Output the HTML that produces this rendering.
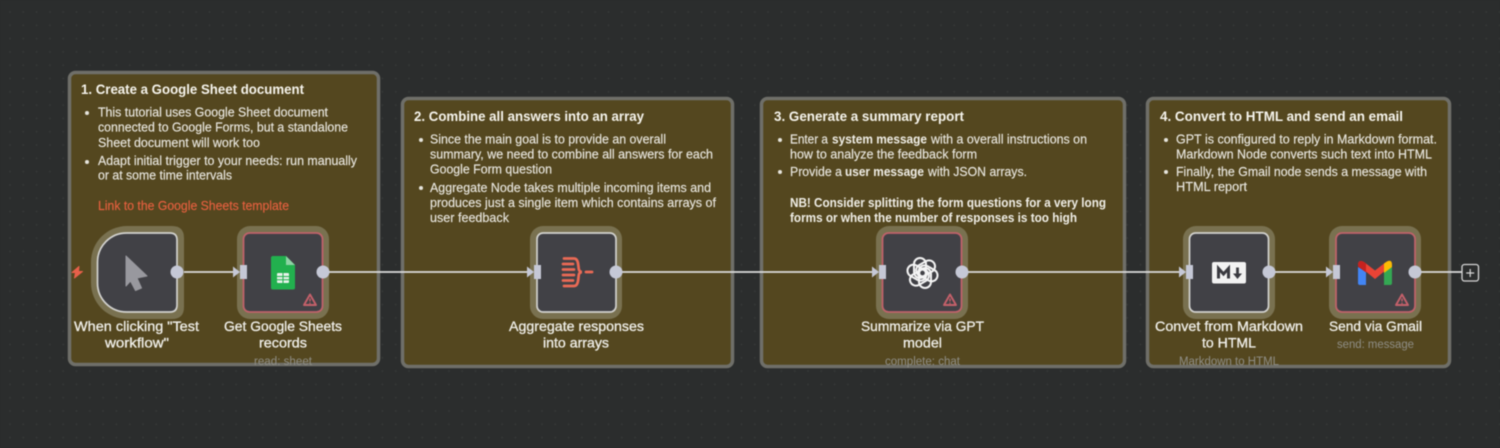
<!DOCTYPE html>
<html><head><meta charset="utf-8"><style>
html,body{margin:0;padding:0;width:1500px;height:448px;overflow:hidden;background:#2b2d2d}
svg{display:block;filter:blur(.4px)}
text{font-family:"Liberation Sans",sans-serif}
.t{font-size:14px;font-weight:700;fill:#f6f4ec}
.b{font-size:12.5px;fill:#e8e6de;stroke:#e8e6de;stroke-width:.15px}
.bb{font-size:12.5px;font-weight:700;fill:#f0eee6}
.l{font-size:14px;fill:#f0efe9;stroke:#f0efe9;stroke-width:.3px}
.s{font-size:11.5px;fill:#8f8e86}
.sticky{fill:#54471f;stroke:#6f6f69;stroke-width:3.500}
.halo{fill:#797150}
.n{fill:#414146;stroke:#d2d2cf;stroke-width:1.700}
.e{fill:#414146;stroke:#bf626a;stroke-width:1.800}
.c{stroke:#dcdcdc;stroke-width:1.800;fill:none}
.o{fill:#c5c8d6}
.i{fill:#c5c8d6}
</style></head><body>
<svg width="1500" height="448" viewBox="0 0 1500 448" xmlns="http://www.w3.org/2000/svg">
<defs>
<pattern id="dots" x="10" y="12" width="13.3" height="13.3" patternUnits="userSpaceOnUse"><circle cx="0" cy="0" r=".9" fill="#383a39"/><circle cx="13.3" cy="0" r=".9" fill="#383a39"/><circle cx="0" cy="13.3" r=".9" fill="#383a39"/><circle cx="13.3" cy="13.3" r=".9" fill="#383a39"/></pattern>
<g id="warn"><path d="M0 -5.500 L6 5 H-6 Z" fill="none" stroke="#c4606a" stroke-width="1.900" stroke-linejoin="round"/><path d="M0 -1.500 V1.500 M0 2.500 V3.700" stroke="#c4606a" stroke-width="1.400"/></g>
<g id="inp"><path d="M-10 -5.500 L-3 0 L-10 5.500 Z" fill="#c5c8d6"/><rect x="-3" y="-7" width="7" height="14" class="i"/></g>
</defs>
<rect width="1500" height="448" fill="#2b2d2d"/>
<rect width="1500" height="448" fill="url(#dots)"/>

<rect class="sticky" x="69.500" y="72.500" width="309" height="292" rx="6"/>
<rect class="sticky" x="402.500" y="98.500" width="330" height="268" rx="6"/>
<rect class="sticky" x="761.500" y="98.500" width="363" height="268" rx="6"/>
<rect class="sticky" x="1147.500" y="98.500" width="302" height="268" rx="6"/>

<!-- Sticky 1 -->
<text class="t" x="81" y="94" textLength="223" lengthAdjust="spacingAndGlyphs">1. Create a Google Sheet document</text>
<circle cx="87" cy="113" r="2" fill="#e6e4dc"/><circle cx="87" cy="162" r="2" fill="#e6e4dc"/>
<text class="b" x="98" y="116.500" textLength="230" lengthAdjust="spacingAndGlyphs">This tutorial uses Google Sheet document</text>
<text class="b" x="98" y="131.500" textLength="250" lengthAdjust="spacingAndGlyphs">connected to Google Forms, but a standalone</text>
<text class="b" x="98" y="147" textLength="162" lengthAdjust="spacingAndGlyphs">Sheet document will work too</text>
<text class="b" x="98" y="165" textLength="259" lengthAdjust="spacingAndGlyphs">Adapt initial trigger to your needs: run manually</text>
<text class="b" x="98" y="179.500" textLength="134" lengthAdjust="spacingAndGlyphs">or at some time intervals</text>
<text class="b" x="98" y="210" textLength="191" lengthAdjust="spacingAndGlyphs" style="fill:#e5603f;stroke:#e5603f">Link to the Google Sheets template</text>

<!-- Sticky 2 -->
<text class="t" x="414" y="121" textLength="230" lengthAdjust="spacingAndGlyphs">2. Combine all answers into an array</text>
<circle cx="421" cy="140" r="2" fill="#e6e4dc"/><circle cx="421" cy="188" r="2" fill="#e6e4dc"/>
<text class="b" x="430" y="143.500" textLength="236" lengthAdjust="spacingAndGlyphs">Since the main goal is to provide an overall</text>
<text class="b" x="430" y="158.500" textLength="283" lengthAdjust="spacingAndGlyphs">summary, we need to combine all answers for each</text>
<text class="b" x="430" y="173.500" textLength="122" lengthAdjust="spacingAndGlyphs">Google Form question</text>
<text class="b" x="430" y="192" textLength="281" lengthAdjust="spacingAndGlyphs">Aggregate Node takes multiple incoming items and</text>
<text class="b" x="430" y="207" textLength="286" lengthAdjust="spacingAndGlyphs">produces just a single item which contains arrays of</text>
<text class="b" x="430" y="222" textLength="79" lengthAdjust="spacingAndGlyphs">user feedback</text>

<!-- Sticky 3 -->
<text class="t" x="774" y="121" textLength="190" lengthAdjust="spacingAndGlyphs">3. Generate a summary report</text>
<circle cx="780" cy="140" r="2" fill="#e6e4dc"/><circle cx="780" cy="172" r="2" fill="#e6e4dc"/>
<text class="b" x="790" y="143.500" textLength="38" lengthAdjust="spacingAndGlyphs">Enter a</text>
<text class="bb" x="832" y="143.500" textLength="95" lengthAdjust="spacingAndGlyphs">system message</text>
<text class="b" x="931" y="143.500" textLength="156" lengthAdjust="spacingAndGlyphs">with a overall instructions on</text>
<text class="b" x="790" y="158.500" textLength="187" lengthAdjust="spacingAndGlyphs">how to analyze the feedback form</text>
<text class="b" x="790" y="176" textLength="52" lengthAdjust="spacingAndGlyphs">Provide a</text>
<text class="bb" x="845" y="176" textLength="79" lengthAdjust="spacingAndGlyphs">user message</text>
<text class="b" x="928" y="176" textLength="99" lengthAdjust="spacingAndGlyphs">with JSON arrays.</text>
<text class="bb" x="790" y="207" textLength="316" lengthAdjust="spacingAndGlyphs">NB! Consider splitting the form questions for a very long</text>
<text class="bb" x="790" y="222" textLength="287" lengthAdjust="spacingAndGlyphs">forms or when the number of responses is too high</text>

<!-- Sticky 4 -->
<text class="t" x="1160" y="121" textLength="243" lengthAdjust="spacingAndGlyphs">4. Convert to HTML and send an email</text>
<circle cx="1166" cy="140" r="2" fill="#e6e4dc"/><circle cx="1166" cy="172" r="2" fill="#e6e4dc"/>
<text class="b" x="1176" y="143.500" textLength="261" lengthAdjust="spacingAndGlyphs">GPT is configured to reply in Markdown format.</text>
<text class="b" x="1176" y="158.500" textLength="256" lengthAdjust="spacingAndGlyphs">Markdown Node converts such text into HTML</text>
<text class="b" x="1176" y="176" textLength="251" lengthAdjust="spacingAndGlyphs">Finally, the Gmail node sends a message with</text>
<text class="b" x="1176" y="191" textLength="71" lengthAdjust="spacingAndGlyphs">HTML report</text>

<!-- Connectors -->
<path class="c" d="M177 272H234M323 272H528M616 272H873M962 272H1180M1269 272H1327M1415 272H1462"/>

<!-- Trigger -->
<path class="halo" d="M91 262 A36 36 0 0 1 127 226 H172 Q184 226 184 238 V307 Q184 319 172 319 H127 A36 36 0 0 1 91 283Z"/>
<path class="n" d="M97.500 262 A29 29 0 0 1 126.500 233 H170 Q177 233 177 240 V305 Q177 312 170 312 H126.500 A29 29 0 0 1 97.500 283Z"/>
<path d="M126 256 L147 276 L137 278 L141.500 288 L135.500 290.500 L130.500 281 L126 286 Z" fill="#98989e" stroke="#98989e" stroke-width="1" stroke-linejoin="round"/>
<circle class="o" cx="177" cy="272" r="6.500"/>
<path d="M79 266.500 L72 272.500 H75.500 L74.500 278 L82.500 271.500 H78.500 Z" fill="#e8604a" stroke="#e8604a" stroke-width="1" stroke-linejoin="round"/>

<!-- Sheets -->
<rect class="halo" x="237" y="226" width="92" height="93" rx="13"/>
<rect class="e" x="243.500" y="233" width="79" height="79" rx="6"/>
<path d="M273 256 H286 L295 265 V288 Q295 289.500 293 289.500 H273 Q271 289.500 271 288 V258 Q271 256 273 256Z" fill="#22b04e"/>
<path d="M286 256 L295 265 H286Z" fill="#8fd3a5"/>
<rect x="277" y="273" width="12" height="10" rx="1" fill="#e8f2ea"/>
<path d="M277 276.500 H289 M277 279.800 H289 M283 273 V283" stroke="#22b04e" stroke-width="1"/>
<use href="#warn" x="310" y="300"/>
<use href="#inp" x="243" y="272"/>
<circle class="o" cx="323" cy="272" r="6.500"/>

<!-- Aggregate -->
<rect class="halo" x="530" y="226" width="92" height="93" rx="13"/>
<rect class="n" x="537" y="233" width="79" height="79" rx="6"/>
<g fill="none" stroke="#ea6a55" stroke-width="2.700" stroke-linecap="round">
<path d="M564 258.500 H574 C579 258.500 578 267 579 270 Q580 272 582 272 Q580 272 579 274 C578 277 579 286 574 286 H564"/>
<path d="M563 264 H573 M563 269.500 H574 M563 275 H574 M563 280.500 H573"/>
<path d="M586 272 H592" stroke-width="2.800"/>
</g>
<use href="#inp" x="537" y="272"/>
<circle class="o" cx="616" cy="272" r="6.500"/>

<!-- GPT -->
<rect class="halo" x="876" y="226" width="92" height="93" rx="13"/>
<rect class="e" x="882.500" y="233" width="79" height="79" rx="6"/>
<g fill="none" stroke="#f4f4f4" stroke-width="2" transform="translate(922.500 273)">
<rect x="-8.500" y="-15" width="12" height="20" rx="6"/>
<rect x="-8.500" y="-15" width="12" height="20" rx="6" transform="rotate(60)"/>
<rect x="-8.500" y="-15" width="12" height="20" rx="6" transform="rotate(120)"/>
<rect x="-8.500" y="-15" width="12" height="20" rx="6" transform="rotate(180)"/>
<rect x="-8.500" y="-15" width="12" height="20" rx="6" transform="rotate(240)"/>
<rect x="-8.500" y="-15" width="12" height="20" rx="6" transform="rotate(300)"/>
</g>
<use href="#warn" x="950" y="300"/>
<use href="#inp" x="882" y="272"/>
<circle class="o" cx="962" cy="272" r="6.500"/>

<!-- Markdown -->
<rect class="halo" x="1183" y="226" width="92" height="93" rx="13"/>
<rect class="n" x="1189.500" y="233" width="79" height="79" rx="6"/>
<rect x="1212" y="262" width="34" height="21.500" rx="2" fill="#f2f2f2"/>
<path d="M1218.500 278.500 V268.500 L1223.500 274 L1228.500 268.500 V278.500" fill="none" stroke="#3a3a40" stroke-width="3"/>
<path d="M1237.500 267.500 V275" stroke="#3a3a40" stroke-width="2.800"/>
<path d="M1233 273.500 H1242 L1237.500 279 Z" fill="#3a3a40"/>
<use href="#inp" x="1189" y="272"/>
<circle class="o" cx="1269" cy="272" r="6.500"/>

<!-- Gmail -->
<rect class="halo" x="1329" y="226" width="92" height="93" rx="13"/>
<rect class="e" x="1336" y="233" width="79" height="79" rx="6"/>
<path d="M1358 267 L1366 272 V285 H1360 Q1358 285 1358 283 Z" fill="#4285f4"/>
<path d="M1384 272 L1392 267 V283 Q1392 285 1390 285 H1384 Z" fill="#34a853"/>
<path d="M1358 265 Q1358 259 1364 262 L1375 270.500 L1386 262 Q1392 259 1392 265 L1375 279 Z" fill="#ea4335"/>
<path d="M1384 263.500 L1387 261.500 Q1392 259 1392 265 V267 L1384 273 Z" fill="#fbbc04"/>
<path d="M1358 265 Q1358 259 1364 262 L1366 263.500 V272.500 L1358 266.500 Z" fill="#c5221f"/>
<use href="#warn" x="1402" y="300"/>
<use href="#inp" x="1336" y="272"/>
<circle class="o" cx="1415" cy="272" r="6.500"/>

<!-- Plus -->
<rect x="1462" y="264.500" width="16.500" height="16.500" rx="2.500" fill="#2b2d2d" stroke="#d6d6d6" stroke-width="1.300"/>
<path d="M1470.200 269 V277 M1466.200 273 H1474.200" stroke="#d6d6d6" stroke-width="1.200"/>

<!-- Labels -->
<text class="l" x="74" y="331" textLength="125" lengthAdjust="spacingAndGlyphs">When clicking "Test</text>
<text class="l" x="105" y="347.500" textLength="64" lengthAdjust="spacingAndGlyphs">workflow"</text>
<text class="l" x="224" y="331" textLength="118" lengthAdjust="spacingAndGlyphs">Get Google Sheets</text>
<text class="l" x="259" y="347.500" textLength="48" lengthAdjust="spacingAndGlyphs">records</text>
<text class="s" x="254" y="365" textLength="58" lengthAdjust="spacingAndGlyphs">read: sheet</text>
<text class="l" x="509" y="331" textLength="135" lengthAdjust="spacingAndGlyphs">Aggregate responses</text>
<text class="l" x="543" y="347.500" textLength="66" lengthAdjust="spacingAndGlyphs">into arrays</text>
<text class="l" x="861" y="331" textLength="123" lengthAdjust="spacingAndGlyphs">Summarize via GPT</text>
<text class="l" x="903" y="347.500" textLength="39" lengthAdjust="spacingAndGlyphs">model</text>
<text class="s" x="885" y="365" textLength="75" lengthAdjust="spacingAndGlyphs">complete: chat</text>
<text class="l" x="1155" y="331" textLength="148" lengthAdjust="spacingAndGlyphs">Convet from Markdown</text>
<text class="l" x="1202" y="347.500" textLength="54" lengthAdjust="spacingAndGlyphs">to HTML</text>
<text class="s" x="1179" y="365" textLength="100" lengthAdjust="spacingAndGlyphs">Markdown to HTML</text>
<text class="l" x="1329" y="331" textLength="93" lengthAdjust="spacingAndGlyphs">Send via Gmail</text>
<text class="s" x="1337" y="348" textLength="77" lengthAdjust="spacingAndGlyphs">send: message</text>
</svg>
</body></html>
